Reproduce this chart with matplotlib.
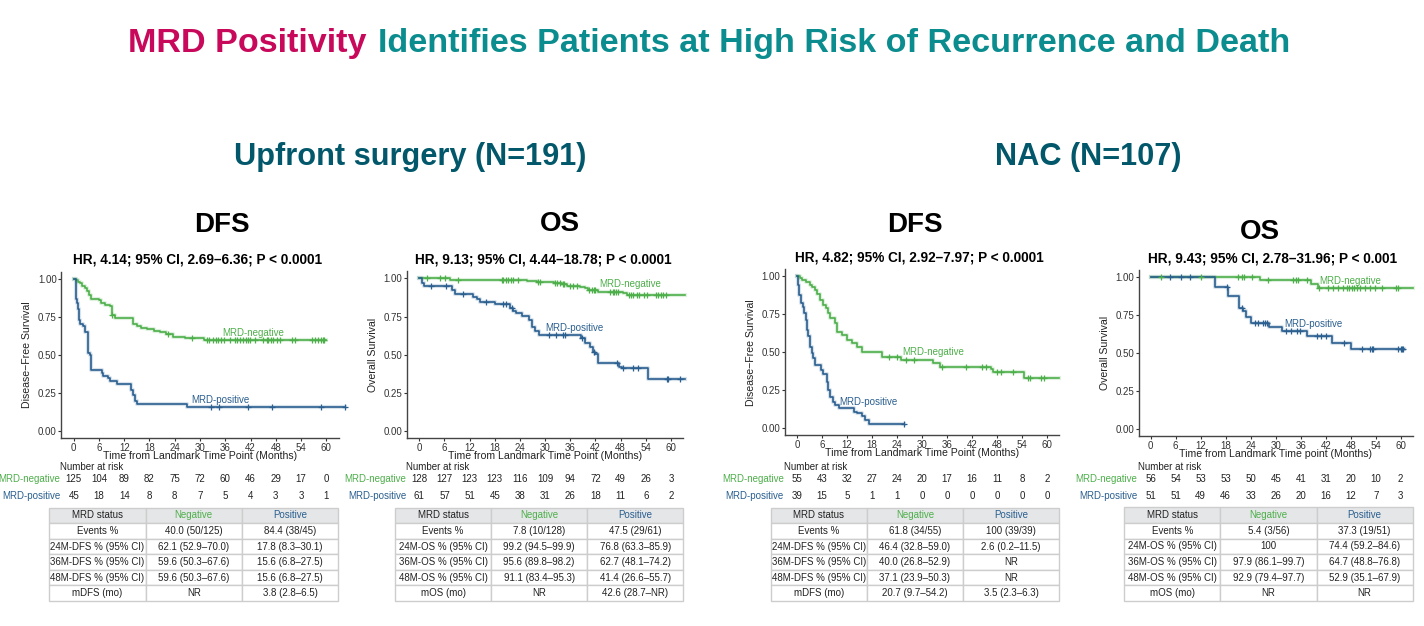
import matplotlib
matplotlib.use('Agg')
import matplotlib.pyplot as plt
import numpy as np
from matplotlib.patches import Rectangle
from matplotlib.transforms import blended_transform_factory
from matplotlib import font_manager

# ---- data ----
risk_times = [0, 6, 12, 18, 24, 30, 36, 42, 48, 54, 60]

# Upfront surgery, DFS
dfs_up_neg_t = [0, 0.5, 1.0, 1.5, 2.0, 2.6, 3.2, 3.6, 4.0, 6.0, 6.4, 7.4, 8.6, 9.0, 9.8,
                14.2, 15.0, 16.0, 17.5, 19.0, 20.5, 22.0, 23.5, 26.5, 31.0]
dfs_up_neg_s = [1.0, 0.99, 0.98, 0.97, 0.95, 0.94, 0.92, 0.89, 0.87, 0.86, 0.84, 0.83, 0.82, 0.76, 0.74,
                0.70, 0.69, 0.68, 0.67, 0.66, 0.65, 0.64, 0.621, 0.61, 0.596]
dfs_up_neg_end = 60.0
dfs_up_neg_cens = [9.2, 22.5, 28.0, 31.6, 32.2, 33.2, 33.9, 34.3, 35.1, 35.7, 37.1, 38.3, 38.9, 39.5,
                   40.3, 40.9, 41.5, 41.9, 43.1, 45.0, 45.8, 46.2, 46.8, 47.4, 48.2, 49.0, 51.8, 52.6,
                   56.5, 57.3, 58.1, 58.7, 59.2, 59.5]
dfs_up_pos_t = [0, 0.5, 0.9, 1.1, 1.35, 1.5, 2.3, 2.7, 3.3, 3.5, 3.9, 4.1, 6.7, 7.0, 8.2, 8.6, 10.2,
                13.6, 14.2, 14.6, 15.0, 27.0]
dfs_up_pos_s = [1.0, 0.87, 0.84, 0.80, 0.73, 0.70, 0.69, 0.65, 0.60, 0.51, 0.50, 0.40, 0.38, 0.36, 0.35,
                0.33, 0.31, 0.27, 0.24, 0.20, 0.178, 0.156]
dfs_up_pos_end = 64.4
dfs_up_pos_cens = [32.6, 34.6, 41.5, 47.0, 58.7, 64.4]

# Upfront surgery, OS
os_up_neg_t = [0, 7.2, 25.6, 28.0, 32.0, 34.0, 35.1, 38.3, 39.5, 40.3, 42.7, 48.6, 49.4]
os_up_neg_s = [1.0, 0.992, 0.984, 0.976, 0.968, 0.96, 0.952, 0.944, 0.936, 0.925, 0.913, 0.902, 0.891]
os_up_neg_end = 63.4
os_up_neg_cens = [1.9, 4.9, 6.1, 9.3, 19.6, 20.0, 20.6, 21.2, 21.8, 22.4, 23.6, 28.4, 28.8, 32.3, 32.9,
                  33.5, 34.2, 34.5, 35.9, 36.7, 37.7, 40.5, 41.1, 41.6, 41.9, 45.5, 46.1, 46.4, 46.9,
                  47.3, 50.1, 50.4, 51.0, 51.8, 52.4, 53.6, 54.2, 56.4, 57.0, 57.5, 58.2, 58.8]
os_up_pos_t = [0, 0.6, 1.1, 7.7, 8.5, 12.9, 13.7, 14.5, 18.0, 21.6, 22.3, 23.1, 24.4, 26.2, 26.8,
               27.6, 28.6, 38.5, 39.5, 40.7, 41.3, 41.8, 42.6, 47.7, 48.3, 54.6]
os_up_pos_s = [1.0, 0.967, 0.95, 0.924, 0.898, 0.876, 0.863, 0.847, 0.83, 0.804, 0.786, 0.77, 0.756,
               0.728, 0.68, 0.658, 0.63, 0.608, 0.58, 0.553, 0.52, 0.505, 0.444, 0.423, 0.412, 0.342]
os_up_pos_end = 63.4
os_up_pos_cens = [2.8, 6.4, 10.3, 16.0, 20.0, 20.6, 22.0, 30.8, 32.6, 34.2, 34.7, 38.7, 41.6, 47.2,
                  48.5, 51.0, 52.2, 59.0, 59.4, 62.2]

# NAC, DFS
dfs_nac_neg_t = [0, 0.7, 1.1, 2.2, 3.1, 3.6, 4.3, 4.7, 5.4, 5.6, 6.3, 6.9, 7.5, 7.9, 9.1, 9.5, 10.7,
                 11.9, 13.1, 14.3, 15.5, 20.3, 25.0, 32.7, 34.3, 46.4, 46.9, 54.4]
dfs_nac_neg_s = [1.0, 0.99, 0.976, 0.96, 0.943, 0.93, 0.91, 0.882, 0.862, 0.844, 0.81, 0.79, 0.757,
                 0.724, 0.69, 0.636, 0.614, 0.58, 0.56, 0.537, 0.50, 0.467, 0.45, 0.428, 0.406, 0.388,
                 0.373, 0.329]
dfs_nac_neg_end = 62.9
dfs_nac_neg_cens = [22.1, 23.9, 26.1, 28.0, 34.8, 40.4, 44.4, 45.3, 48.0, 49.0, 51.7, 55.4, 55.8,
                    58.6, 59.2]
dfs_nac_pos_t = [0, 0.3, 0.55, 0.9, 1.4, 1.7, 2.2, 2.5, 2.7, 3.1, 3.5, 3.75, 4.3, 5.7, 6.3, 7.1, 7.5,
                 7.9, 8.7, 9.1, 10.1, 13.7, 14.3, 15.5, 16.3, 17.3]
dfs_nac_pos_s = [1.0, 0.943, 0.877, 0.822, 0.80, 0.757, 0.713, 0.647, 0.607, 0.537, 0.493, 0.46, 0.417,
                 0.384, 0.36, 0.307, 0.252, 0.208, 0.175, 0.154, 0.132, 0.11, 0.099, 0.081, 0.055, 0.026]
dfs_nac_pos_end = 25.6
dfs_nac_pos_cens = [25.6]

# NAC, OS
os_nac_neg_t = [0, 26.2, 38.4, 40.2]
os_nac_neg_s = [1.0, 0.982, 0.955, 0.929]
os_nac_neg_end = 62.9
os_nac_neg_cens = [2.5, 12.1, 20.9, 21.8, 22.4, 24.2, 28.2, 34.2, 34.9, 35.3, 37.4, 40.5, 42.6, 43.8,
                   45.0, 46.2, 47.0, 47.7, 48.2, 48.8, 49.6, 50.2, 51.4, 52.6, 53.8, 55.4, 58.9, 59.4]
os_nac_pos_t = [0, 15.4, 18.6, 21.3, 22.2, 22.9, 24.1, 28.5, 31.4, 37.4, 43.4, 48.0]
os_nac_pos_s = [1.0, 0.934, 0.877, 0.796, 0.779, 0.741, 0.697, 0.675, 0.647, 0.614, 0.57, 0.529]
os_nac_pos_end = 60.8
os_nac_pos_cens = [4.6, 7.2, 9.4, 18.2, 21.8, 25.0, 25.8, 26.9, 27.4, 27.8, 32.5, 33.6, 35.0, 35.8,
                   39.8, 40.8, 42.1, 46.4, 50.6, 52.6, 53.0, 53.3, 59.4, 60.0, 60.2, 60.6]

# numbers at risk
risk_up_dfs_neg = [125, 104, 89, 82, 75, 72, 60, 46, 29, 17, 0]
risk_up_dfs_pos = [45, 18, 14, 8, 8, 7, 5, 4, 3, 3, 1]
risk_up_os_neg = [128, 127, 123, 123, 116, 109, 94, 72, 49, 26, 3]
risk_up_os_pos = [61, 57, 51, 45, 38, 31, 26, 18, 11, 6, 2]
risk_nac_dfs_neg = [55, 43, 32, 27, 24, 20, 17, 16, 11, 8, 2]
risk_nac_dfs_pos = [39, 15, 5, 1, 1, 0, 0, 0, 0, 0, 0]
risk_nac_os_neg = [56, 54, 53, 53, 50, 45, 41, 31, 20, 10, 2]
risk_nac_os_pos = [51, 51, 49, 46, 33, 26, 20, 16, 12, 7, 3]

# summary tables
tab_header = ['MRD status', 'Negative', 'Positive']
tab_up_dfs = [['Events %', '40.0 (50/125)', '84.4 (38/45)'],
              ['24M-DFS % (95% CI)', '62.1 (52.9–70.0)', '17.8 (8.3–30.1)'],
              ['36M-DFS % (95% CI)', '59.6 (50.3–67.6)', '15.6 (6.8–27.5)'],
              ['48M-DFS % (95% CI)', '59.6 (50.3–67.6)', '15.6 (6.8–27.5)'],
              ['mDFS (mo)', 'NR', '3.8 (2.8–6.5)']]
tab_up_os = [['Events %', '7.8 (10/128)', '47.5 (29/61)'],
             ['24M-OS % (95% CI)', '99.2 (94.5–99.9)', '76.8 (63.3–85.9)'],
             ['36M-OS % (95% CI)', '95.6 (89.8–98.2)', '62.7 (48.1–74.2)'],
             ['48M-OS % (95% CI)', '91.1 (83.4–95.3)', '41.4 (26.6–55.7)'],
             ['mOS (mo)', 'NR', '42.6 (28.7–NR)']]
tab_nac_dfs = [['Events %', '61.8 (34/55)', '100 (39/39)'],
               ['24M-DFS % (95% CI)', '46.4 (32.8–59.0)', '2.6 (0.2–11.5)'],
               ['36M-DFS % (95% CI)', '40.0 (26.8–52.9)', 'NR'],
               ['48M-DFS % (95% CI)', '37.1 (23.9–50.3)', 'NR'],
               ['mDFS (mo)', '20.7 (9.7–54.2)', '3.5 (2.3–6.3)']]
tab_nac_os = [['Events %', '5.4 (3/56)', '37.3 (19/51)'],
              ['24M-OS % (95% CI)', '100', '74.4 (59.2–84.6)'],
              ['36M-OS % (95% CI)', '97.9 (86.1–99.7)', '64.7 (48.8–76.8)'],
              ['48M-OS % (95% CI)', '92.9 (79.4–97.7)', '52.9 (35.1–67.9)'],
              ['mOS (mo)', 'NR', 'NR']]

GREEN = '#4daf4a'
BLUE = '#2a5f8f'
CRIMSON = '#c8085a'
TEAL = '#0b8c8e'
DARKTEAL = '#02586a'

W, H = 1424, 626
plt.rcParams['font.family'] = ['Liberation Sans', 'DejaVu Sans']
names = {f.name for f in font_manager.fontManager.ttflist}
if 'Liberation Sans Narrow' in names:
    head_font, k = ['Liberation Sans Narrow', 'Liberation Sans'], 1.0
else:
    head_font, k = ['Liberation Sans', 'DejaVu Sans'], 0.82

fig = plt.figure(figsize=(W / 100, H / 100), dpi=100)
ov = fig.add_axes([0, 0, 1, 1])
ov.set_xlim(0, W)
ov.set_ylim(H, 0)
ov.axis('off')
ov.patch.set_visible(False)

# ---- headings ----
renderer = fig.canvas.get_renderer()
t1 = ov.text(0, 51.7, 'MRD Positivity', color=CRIMSON, fontsize=30 * k, family=head_font,
             fontweight='bold', va='baseline', ha='left')
t2 = ov.text(0, 51.7, 'Identifies Patients at High Risk of Recurrence and Death', color=TEAL,
             fontsize=30 * k, family=head_font, fontweight='bold', va='baseline', ha='left')
w1 = t1.get_window_extent(renderer).width
w2 = t2.get_window_extent(renderer).width
gap = 11.5
x_start = 709 - (w1 + gap + w2) / 2
t1.set_x(x_start)
t2.set_x(x_start + w1 + gap)

ov.text(410, 165, 'Upfront surgery (N=191)', color=DARKTEAL, fontsize=27 * k, family=head_font,
        fontweight='bold', ha='center', va='baseline')
ov.text(1088, 165, 'NAC (N=107)', color=DARKTEAL, fontsize=27 * k, family=head_font,
        fontweight='bold', ha='center', va='baseline')

panels = [
    dict(x0=73.7, x60=326.3, y1=278.7, y0=431.3, title='DFS', title_xy=(221.7, 231.7),
         hr='HR, 4.14; 95% CI, 2.69–6.36; P < 0.0001', hr_xy=(197.7, 263.3),
         ylabel='Disease−Free Survival', ylab_x=26.7,
         xlabel='Time from Landmark Time Point (Months)',
         neg=(dfs_up_neg_t, dfs_up_neg_s, dfs_up_neg_end, dfs_up_neg_cens),
         pos=(dfs_up_pos_t, dfs_up_pos_s, dfs_up_pos_end, dfs_up_pos_cens),
         neg_lab=(35.3, 0.645), pos_lab=(28.0, 0.205),
         risk=(risk_up_dfs_neg, risk_up_dfs_pos), tab=tab_up_dfs,
         tab_box=(49.3, 338.3, 507.7, 601)),
    dict(x0=419.3, x60=671.0, y1=278.3, y0=431.3, title='OS', title_xy=(559.5, 230.7),
         hr='HR, 9.13; 95% CI, 4.44–18.78; P < 0.0001', hr_xy=(543, 263.3),
         ylabel='Overall Survival', ylab_x=373.3,
         xlabel='Time from Landmark Time Point (Months)',
         neg=(os_up_neg_t, os_up_neg_s, os_up_neg_end, os_up_neg_cens),
         pos=(os_up_pos_t, os_up_pos_s, os_up_pos_end, os_up_pos_cens),
         neg_lab=(42.9, 0.963), pos_lab=(30.0, 0.673),
         risk=(risk_up_os_neg, risk_up_os_pos), tab=tab_up_os,
         tab_box=(395, 683.3, 507.7, 601)),
    dict(x0=797.0, x60=1047.3, y1=276.3, y0=428.3, title='DFS', title_xy=(915, 231.7),
         hr='HR, 4.82; 95% CI, 2.92–7.97; P < 0.0001', hr_xy=(919.5, 262),
         ylabel='Disease−Free Survival', ylab_x=750.7,
         xlabel='Time from Landmark Time Point (Months)',
         neg=(dfs_nac_neg_t, dfs_nac_neg_s, dfs_nac_neg_end, dfs_nac_neg_cens),
         pos=(dfs_nac_pos_t, dfs_nac_pos_s, dfs_nac_pos_end, dfs_nac_pos_cens),
         neg_lab=(25.3, 0.50), pos_lab=(10.1, 0.175),
         risk=(risk_nac_dfs_neg, risk_nac_dfs_pos), tab=tab_nac_dfs,
         tab_box=(770.7, 1059, 507.7, 601)),
    dict(x0=1150.7, x60=1400.7, y1=277.3, y0=429.3, title='OS', title_xy=(1259.7, 239.3),
         hr='HR, 9.43; 95% CI, 2.78–31.96; P < 0.001', hr_xy=(1273, 262.3),
         ylabel='Overall Survival', ylab_x=1105,
         xlabel='Time from Landmark Time point (Months)',
         neg=(os_nac_neg_t, os_nac_neg_s, os_nac_neg_end, os_nac_neg_cens),
         pos=(os_nac_pos_t, os_nac_pos_s, os_nac_pos_end, os_nac_pos_cens),
         neg_lab=(40.5, 0.978), pos_lab=(32.1, 0.693),
         risk=(risk_nac_os_neg, risk_nac_os_pos), tab=tab_nac_os,
         tab_box=(1124.3, 1412.7, 507.3, 601)),
]


def draw_curve(ax, curve, color):
    t, s, end, cens = curve
    tt = list(t) + [end]
    ss = list(s) + [s[-1]]
    ax.step(tt, ss, where='post', color=color, lw=3.0, alpha=0.18, clip_on=False, zorder=2)
    ax.step(tt, ss, where='post', color=color, lw=1.2, clip_on=False, zorder=3)
    idx = np.searchsorted(t, cens, side='right') - 1
    ax.plot(cens, np.array(s)[idx], ls='none', marker='+', ms=5, mew=0.9, color=color,
            clip_on=False, zorder=4)


for p in panels:
    ppm = (p['x60'] - p['x0']) / 60.0
    ppu = p['y0'] - p['y1']
    l = p['x0'] - 2.9 * ppm
    r = p['x0'] + 62.9 * ppm
    top = p['y1'] - 0.045 * ppu
    bot = p['y0'] + 0.045 * ppu
    ax = fig.add_axes([l / W, 1 - bot / H, (r - l) / W, (bot - top) / H])
    ax.set_xlim(-2.9, 62.9)
    ax.set_ylim(-0.045, 1.045)
    ax.patch.set_visible(False)
    for side in ['top', 'right']:
        ax.spines[side].set_visible(False)
    for side in ['left', 'bottom']:
        ax.spines[side].set_color('#444444')
        ax.spines[side].set_linewidth(1.0)
    ax.set_xticks(risk_times)
    ax.set_yticks([0, 0.25, 0.5, 0.75, 1.0])
    ax.set_yticklabels(['0.00', '0.25', '0.50', '0.75', '1.00'])
    ax.tick_params(labelsize=7, colors='#333333', length=2.2, width=0.8, pad=1.2)

    draw_curve(ax, p['neg'], GREEN)
    draw_curve(ax, p['pos'], BLUE)
    ax.text(*p['neg_lab'], 'MRD-negative', color=GREEN, fontsize=7, va='center', ha='left')
    ax.text(*p['pos_lab'], 'MRD-positive', color=BLUE, fontsize=7, va='center', ha='left')

    # titles and labels
    ov.text(*p['title_xy'], p['title'], fontsize=20, fontweight='bold', ha='center', va='baseline')
    ov.text(*p['hr_xy'], p['hr'], fontsize=9.8, fontweight='bold', ha='center', va='baseline')
    ov.text(p['ylab_x'], (top + bot) / 2, p['ylabel'], rotation=90, fontsize=7.6, color='#222222',
            ha='center', va='center')
    ov.text((l + r) / 2, bot + 18, p['xlabel'], fontsize=7.6, color='#222222', ha='center',
            va='center')

    # number at risk
    tr = blended_transform_factory(ax.transData, ov.transData)
    ov.text(l - 1, 466.8, 'Number at risk', fontsize=7, ha='left', va='center', color='#222222')
    neg_r, pos_r = p['risk']
    for yy, vals, lab, col in [(479.0, neg_r, 'MRD-negative', GREEN), (496.0, pos_r, 'MRD-positive', BLUE)]:
        ov.text(l - 1, yy, lab, fontsize=7, ha='right', va='center', color=col)
        for tm, n in zip(risk_times, vals):
            ov.text(tm, yy, str(n), transform=tr, fontsize=7, ha='center', va='center', color='#222222')

    # summary table
    tl, trr, tt, tb = p['tab_box']
    rows = [tab_header] + p['tab']
    cw = (trr - tl) / 3
    rh = (tb - tt) / len(rows)
    for i, row in enumerate(rows):
        for j, cell in enumerate(row):
            fc = '#e5e6e8' if i == 0 else 'white'
            ov.add_patch(Rectangle((tl + j * cw, tt + i * rh), cw, rh, facecolor=fc,
                                   edgecolor='#cdcdcd', lw=1.0))
            col = '#222222'
            if i == 0 and j == 1:
                col = GREEN
            elif i == 0 and j == 2:
                col = BLUE
            ov.text(tl + (j + 0.5) * cw, tt + (i + 0.5) * rh, cell, fontsize=7, color=col,
                    ha='center', va='center')

fig.savefig('out.png', dpi=100)
